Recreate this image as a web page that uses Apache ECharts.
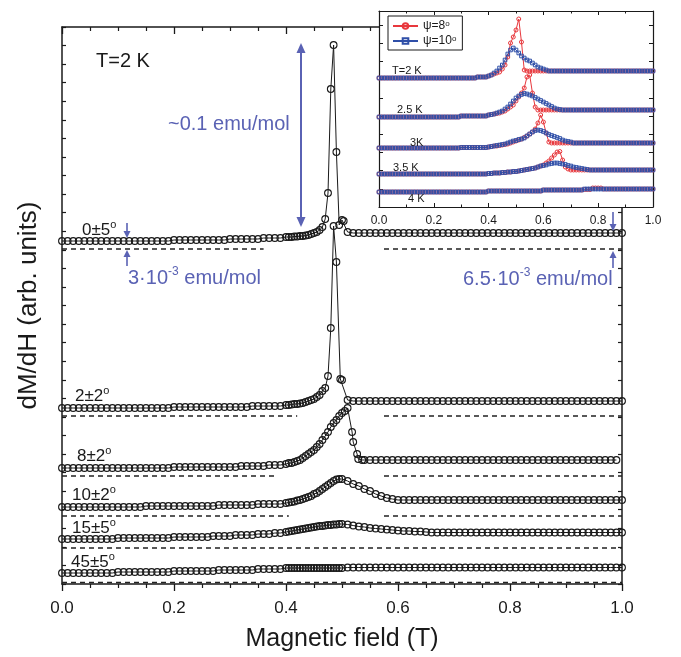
<!DOCTYPE html>
<html>
<head>
<meta charset="utf-8">
<script src="https://cdn.jsdelivr.net/npm/echarts@6/dist/echarts.min.js"></script>
<style>
  html, body { margin: 0; padding: 0; background: #fff; }
  #chart { width: 681px; height: 657px; }
</style>
</head>
<body>
<div id="chart"></div>
<script>
// ---- Main panel: dM/dH vs field at T = 2 K for several tilt angles (offset vertically) ----
const CURVE_0_5 = [
  [0,343],[0.01,343],[0.02,343],[0.03,343],[0.04,343],[0.05,343],[0.06,343],[0.07,343],[0.08,343],[0.09,343],
  [0.1,343],[0.11,343],[0.12,343],[0.13,343],[0.14,343],[0.15,343],[0.16,343],[0.17,343],[0.18,343],[0.19,343],
  [0.2,344],[0.21,344],[0.22,344],[0.23,344],[0.24,344],[0.25,344],[0.26,344],[0.27,344],[0.28,344],[0.29,344],
  [0.3,345],[0.31,345],[0.32,345],[0.33,345],[0.34,345],[0.35,345],[0.36,346],[0.37,346],[0.38,346],[0.39,346],
  [0.4,347],[0.405,347],[0.41,347],[0.415,347.5],[0.42,347.5],[0.425,348],[0.43,348],[0.435,348.5],[0.44,349],[0.445,350],
  [0.45,351],[0.455,352],[0.46,354],[0.465,357],[0.47,365],[0.475,391],[0.48,495],[0.485,539],[0.49,432],[0.495,359],
  [0.5,364],[0.503,363],[0.51,352],
  [0.52,351],[0.53,351],[0.54,351],[0.55,351],[0.56,351],[0.57,351],[0.58,351],[0.59,351],
  [0.6,351],[0.61,351],[0.62,351],[0.63,351],[0.64,351],[0.65,351],[0.66,351],[0.67,351],[0.68,351],[0.69,351],
  [0.7,351],[0.71,351],[0.72,351],[0.73,351],[0.74,351],[0.75,351],[0.76,351],[0.77,351],[0.78,351],[0.79,351],
  [0.8,351],[0.81,351],[0.82,351],[0.83,351],[0.84,351],[0.85,351],[0.86,351],[0.87,351],[0.88,351],[0.89,351],
  [0.9,351],[0.91,351],[0.92,351],[0.93,351],[0.94,351],[0.95,351],[0.96,351],[0.97,351],[0.98,351],[0.99,351],[1,351]
];

const CURVE_2_2 = [
  [0,176],[0.01,176],[0.02,176],[0.03,176],[0.04,176],[0.05,176],[0.06,176],[0.07,176],[0.08,176],[0.09,176],
  [0.1,176],[0.11,176],[0.12,176],[0.13,176],[0.14,176],[0.15,176],[0.16,176],[0.17,176],[0.18,176],[0.19,176],
  [0.2,177],[0.21,177],[0.22,177],[0.23,177],[0.24,177],[0.25,177],[0.26,177],[0.27,177],[0.28,177],[0.29,177],
  [0.3,177],[0.31,177],[0.32,177],[0.33,177],[0.34,178],[0.35,178],[0.36,178],[0.37,178],[0.38,178],[0.39,178],
  [0.4,179],[0.405,179],[0.41,179.5],[0.415,180],[0.42,180],[0.425,180.5],[0.43,181],[0.435,182],[0.44,183],[0.445,184],
  [0.45,185],[0.455,187],[0.46,189],[0.465,193],[0.47,196],[0.475,208],[0.48,256],[0.485,358],[0.49,322],[0.497,205],
  [0.5,204],[0.51,184],
  [0.52,183],[0.53,183],[0.54,183],[0.55,183],[0.56,183],[0.57,183],[0.58,183],[0.59,183],
  [0.6,183],[0.61,183],[0.62,183],[0.63,183],[0.64,183],[0.65,183],[0.66,183],[0.67,183],[0.68,183],[0.69,183],
  [0.7,183],[0.71,183],[0.72,183],[0.73,183],[0.74,183],[0.75,183],[0.76,183],[0.77,183],[0.78,183],[0.79,183],
  [0.8,183],[0.81,183],[0.82,183],[0.83,183],[0.84,183],[0.85,183],[0.86,183],[0.87,183],[0.88,183],[0.89,183],
  [0.9,183],[0.91,183],[0.92,183],[0.93,183],[0.94,183],[0.95,183],[0.96,183],[0.97,183],[0.98,183],[0.99,183],[1,183]
];

const CURVE_8_2 = [
  [0,116],[0.01,116],[0.02,116],[0.03,116],[0.04,116],[0.05,116],[0.06,116],[0.07,116],[0.08,116],[0.09,116],
  [0.1,116],[0.11,116],[0.12,116],[0.13,116],[0.14,116],[0.15,116],[0.16,116],[0.17,116],[0.18,116],[0.19,116],
  [0.2,117],[0.21,117],[0.22,117],[0.23,117],[0.24,117],[0.25,117],[0.26,117],[0.27,117],[0.28,117],[0.29,117],
  [0.3,117],[0.31,117],[0.32,118],[0.33,118],[0.34,118],[0.35,118],[0.36,118],[0.37,119],[0.38,119],[0.39,119],
  [0.4,120],[0.405,121],[0.41,121],[0.415,122],[0.42,123],[0.425,124],[0.43,126],[0.435,128],[0.44,130],[0.445,132],
  [0.45,134],[0.455,137],[0.46,140],[0.465,144],[0.47,148],[0.475,152],[0.48,157],[0.485,161],[0.49,164],[0.495,168],
  [0.5,171],[0.505,173],[0.51,176],[0.518,152],[0.52,142],[0.527,130],[0.529,125],[0.536,124],
  [0.54,124],[0.55,124],[0.56,124],[0.57,124],[0.58,124],[0.59,124],
  [0.6,124],[0.61,124],[0.62,124],[0.63,124],[0.64,124],[0.65,124],[0.66,124],[0.67,124],[0.68,124],[0.69,124],
  [0.7,124],[0.71,124],[0.72,124],[0.73,124],[0.74,124],[0.75,124],[0.76,124],[0.77,124],[0.78,124],[0.79,124],
  [0.8,124],[0.81,124],[0.82,124],[0.83,124],[0.84,124],[0.85,124],[0.86,124],[0.87,124],[0.88,124],[0.89,124],
  [0.9,124],[0.91,124],[0.92,124],[0.93,124],[0.94,124],[0.95,124],[0.96,124],[0.97,124],[0.98,124],[0.99,124]
];

const CURVE_10_2 = [
  [0,77],[0.01,77],[0.02,77],[0.03,77],[0.04,77],[0.05,77],[0.06,77],[0.07,77],[0.08,77],[0.09,77],
  [0.1,77],[0.11,77],[0.12,77],[0.13,77],[0.14,77],[0.15,78],[0.16,78],[0.17,78],[0.18,78],[0.19,78],
  [0.2,78],[0.21,78],[0.22,78],[0.23,78],[0.24,78],[0.25,78],[0.26,78],[0.27,78],[0.28,79],[0.29,79],
  [0.3,79],[0.31,79],[0.32,79],[0.33,79],[0.34,79],[0.35,80],[0.36,80],[0.37,80],[0.38,80],[0.39,80],
  [0.4,81],[0.405,81.5],[0.41,82],[0.415,82.5],[0.42,83.5],[0.425,84],[0.43,85],[0.435,86],[0.44,87],[0.445,88],
  [0.45,90],[0.455,91],[0.46,93],[0.465,95],[0.47,97],[0.475,99],[0.48,101],[0.485,103],[0.49,104.5],[0.495,105],
  [0.5,105],[0.51,103],[0.52,100],[0.53,98],[0.54,95],[0.55,93],[0.56,90],[0.57,88],[0.58,86],[0.59,85],
  [0.6,84],[0.61,84],[0.62,84],[0.63,84],[0.64,84],[0.65,84],[0.66,84],[0.67,84],[0.68,84],[0.69,84],
  [0.7,84],[0.71,84],[0.72,84],[0.73,84],[0.74,84],[0.75,84],[0.76,84],[0.77,84],[0.78,84],[0.79,84],
  [0.8,84],[0.81,84],[0.82,84],[0.83,84],[0.84,84],[0.85,84],[0.86,84],[0.87,84],[0.88,84],[0.89,84],
  [0.9,84],[0.91,84],[0.92,84],[0.93,84],[0.94,84],[0.95,84],[0.96,84],[0.97,84],[0.98,84],[0.99,84],[1,84]
];

const CURVE_15_5 = [
  [0,45],[0.01,45],[0.02,45],[0.03,45],[0.04,45],[0.05,45],[0.06,45],[0.07,45],[0.08,45],[0.09,45],
  [0.1,46],[0.11,46],[0.12,46],[0.13,46],[0.14,46],[0.15,46],[0.16,46],[0.17,46],[0.18,46],[0.19,46],
  [0.2,47],[0.21,47],[0.22,47],[0.23,47],[0.24,47],[0.25,47],[0.26,47],[0.27,48],[0.28,48],[0.29,48],
  [0.3,48],[0.31,49],[0.32,49],[0.33,49],[0.34,49],[0.35,50],[0.36,50],[0.37,50],[0.38,51],[0.39,51],
  [0.4,52],[0.405,52.5],[0.41,53],[0.415,53.5],[0.42,54],[0.425,54.5],[0.43,55],[0.435,55.5],[0.44,56],[0.445,56.5],
  [0.45,57],[0.455,57.5],[0.46,58],[0.465,58],[0.47,58.5],[0.475,59],[0.48,59],[0.485,59.5],[0.49,59.5],[0.495,60],
  [0.5,60],[0.51,59.5],[0.52,58.5],[0.53,57.5],[0.54,57],[0.55,56],[0.56,55.5],[0.57,55],[0.58,54.5],[0.59,54],
  [0.6,53.5],[0.61,53],[0.62,53],[0.63,52.5],[0.64,52.5],[0.65,52],[0.66,51.5],[0.67,51.5],[0.68,51.5],[0.69,51.5],
  [0.7,51.5],[0.71,51.5],[0.72,51.5],[0.73,51.5],[0.74,51.5],[0.75,51.5],[0.76,51.5],[0.77,51.5],[0.78,51.5],[0.79,51.5],
  [0.8,51.5],[0.81,51.5],[0.82,51.5],[0.83,51.5],[0.84,51.5],[0.85,51.5],[0.86,51.5],[0.87,51.5],[0.88,51.5],[0.89,51.5],
  [0.9,51.5],[0.91,51.5],[0.92,51.5],[0.93,51.5],[0.94,51.5],[0.95,51.5],[0.96,51.5],[0.97,51.5],[0.98,51.5],[0.99,51.5],[1,51.5]
];

const CURVE_45_5 = [
  [0,11],[0.01,11],[0.02,11],[0.03,11],[0.04,11],[0.05,11],[0.06,11],[0.07,11],[0.08,11],[0.09,11],
  [0.1,12],[0.11,12],[0.12,12],[0.13,12],[0.14,12],[0.15,12],[0.16,12],[0.17,12],[0.18,12],[0.19,12],
  [0.2,13],[0.21,13],[0.22,13],[0.23,13],[0.24,13],[0.25,13],[0.26,13],[0.27,13],[0.28,14],[0.29,14],
  [0.3,14],[0.31,14],[0.32,14],[0.33,14],[0.34,14],[0.35,15],[0.36,15],[0.37,15],[0.38,15],[0.39,15],
  [0.4,16],[0.405,16],[0.41,16],[0.415,16],[0.42,16],[0.425,16],[0.43,16],[0.435,16],[0.44,16],[0.445,16],
  [0.45,16],[0.455,16],[0.46,16],[0.465,16],[0.47,16],[0.475,16],[0.48,16],[0.485,16],[0.49,16],[0.495,16],
  [0.5,16],[0.51,16.5],[0.52,16.5],[0.53,16.5],[0.54,16.5],[0.55,16.5],[0.56,16.5],[0.57,16.5],[0.58,16.5],[0.59,16.5],
  [0.6,16.5],[0.61,16.5],[0.62,16.5],[0.63,16.5],[0.64,16.5],[0.65,16.5],[0.66,16.5],[0.67,16.5],[0.68,16.5],[0.69,16.5],
  [0.7,16.5],[0.71,16.5],[0.72,16.5],[0.73,16.5],[0.74,16.5],[0.75,16.5],[0.76,16.5],[0.77,16.5],[0.78,16.5],[0.79,16.5],
  [0.8,16.5],[0.81,16.5],[0.82,16.5],[0.83,16.5],[0.84,16.5],[0.85,16.5],[0.86,16.5],[0.87,16.5],[0.88,16.5],[0.89,16.5],
  [0.9,16.5],[0.91,16.5],[0.92,16.5],[0.93,16.5],[0.94,16.5],[0.95,16.5],[0.96,16.5],[0.97,16.5],[0.98,16.5],[0.99,16.5],[1,16.5]
];

const MAIN_CURVES = [CURVE_0_5, CURVE_2_2, CURVE_8_2, CURVE_10_2, CURVE_15_5, CURVE_45_5];

// zero-signal reference level of each trace and the field ranges where it is drawn
const REF_LEVELS = [335, 168, 108, 68, 36, 1.5];
const REF_SPANS = [
  [[0, 0.36], [0.575, 1]],
  [[0, 0.42], [0.575, 1]],
  [[0, 0.38], [0.575, 1]],
  [[0, 0.405], [0.575, 1]],
  [[0, 1]],
  [[0, 1]]
];

// ---- Inset: temperature dependence for psi = 8 deg and psi = 10 deg ----
const INSET_FIELD = [
  0,0.01,0.02,0.03,0.04,0.05,0.06,0.07,0.08,0.09,
  0.1,0.11,0.12,0.13,0.14,0.15,0.16,0.17,0.18,0.19,
  0.2,0.21,0.22,0.23,0.24,0.25,0.26,0.27,0.28,0.29,
  0.3,0.31,0.32,0.33,0.34,0.35,0.36,0.37,0.38,0.39,
  0.4,0.41,0.42,0.43,0.44,0.45,0.46,0.47,0.48,0.49,
  0.5,0.51,0.52,0.53,0.54,0.55,0.56,0.57,0.58,0.59,
  0.6,0.61,0.62,0.63,0.64,0.65,0.66,0.67,0.68,0.69,
  0.7,0.71,0.72,0.73,0.74,0.75,0.76,0.77,0.78,0.79,
  0.8,0.81,0.82,0.83,0.84,0.85,0.86,0.87,0.88,0.89,
  0.9,0.91,0.92,0.93,0.94,0.95,0.96,0.97,0.98,0.99,1
];

const PSI8_2K = [
  129,129,129,129,129,129,129,129,129,129,
  129,129,129,129,129,129,129,129,129,129,
  129,129,129,129,129,129,129,129,129,129,
  129,129,129,129,129,129,130,130,130,130,
  131,132,133,134,135,138,142,150,164,170,
  177,188,165,137,136,136,136,136,136,136,
  136,136,136,136,136,136,136,136,136,136,
  136,136,136,136,136,136,136,136,136,136,
  136,136,136,136,136,136,136,136,136,136,
  136,136,136,136,136,136,136,136,136,136,136
];
const PSI10_2K = [
  129,129,129,129,129,129,129,129,129,129,
  129,129,129,129,129,129,129,129,129,129,
  129,129,129,129,129,129,129,129,129,129,
  129,129,129,129,129,129,130,130,130,130,
  131,132,134,136,139,142,147,153,157,159,
  157,154,151,149,147,146,144,142,140,139,
  138,137,136,136,136,136,136,136,136,136,
  136,136,136,136,136,136,136,136,136,136,
  136,136,136,136,136,136,136,136,136,136,
  136,136,136,136,136,136,136,136,136,136,136
];
const PSI8_25K = [
  90,90,90,90,90,90,90,90,90,90,
  90,90,90,90,90,90,90,90,90,90,
  90,90,90,90,90,90,90,90,90,90,
  91,91,91,91,91,91,91,91,91,91,
  92,92.5,93,93.5,94,95,96,98,100,102,
  106,110,114,119,130,132,114,100,97,97,
  97,97,97,97,97,97,97,97,97,97,
  97,97,97,97,97,97,97,97,97,97,
  97,97,97,97,97,97,97,97,97,97,
  97,97,97,97,97,97,97,97,97,97,97
];
const PSI10_25K = [
  90,90,90,90,90,90,90,90,90,90,
  90,90,90,90,90,90,90,90,90,90,
  90,90,90,90,90,90,90,90,90,90,
  91,91,91,91,91,91,91,91,91,91,
  92,92.5,93,94,95,96,98,100,103,106,
  109,111,112.5,113.5,113,112,111,109.5,108,106.5,
  105,103.5,102,100.5,99,98,97.5,97,97,97,
  97,97,97,97,97,97,97,97,97,97,
  97,97,97,97,97,97,97,97,97,97,
  97,97,97,97,97,97,97,97,97,97,97
];
const PSI8_3K = [
  59,59,59,59,59,59,59,59,59,59,
  59,59,59,59,59,59,59,59,59,59,
  59,59,59,59,59,59,59,59,59,59,
  59.5,59.5,59.5,59.5,59.5,59.5,59.5,59.5,59.5,59.5,
  60,60.5,61,61,61.5,62,62.5,63,64,65,
  66,67,68,69.5,71,73,75,78,84,92,
  85,74,65,64,64,64,64,64,64,64,
  64,64,64,64,64,64,64,64,64,64,
  64,64,64,64,64,64,64,64,64,64,
  64,64,64,64,64,64,64,64,64,64,64
];
const PSI10_3K = [
  59,59,59,59,59,59,59,59,59,59,
  59,59,59,59,59,59,59,59,59,59,
  59,59,59,59,59,59,59,59,59,59,
  59.5,59.5,59.5,59.5,59.5,59.5,59.5,59.5,59.5,59.5,
  60,60.5,61,61.5,62,62.5,63,64,65,66,
  66.5,67.5,68,69,71,73,75,76.5,77,76.5,
  75.5,74,72.5,71.5,70.5,69.5,68.5,67,66,65.5,
  65,64,64,64,64,64,64,64,64,64,
  64,64,64,64,64,64,64,64,64,64,
  64,64,64,64,64,64,64,64,64,64,64
];
const PSI8_35K = [
  33,33,33,33,33,33,33,33,33,33,
  33,33,33,33,33,33,33,33,33,33,
  33,33,33,33,33,33,33,33,33,33,
  33,33,33,33,33,33,33,33,33,33,
  33.5,33.5,34,34,34,34.5,34.5,35,35,35.5,
  35.5,36,36.5,37,37.5,38,38.5,39,40,41,
  42,44,46,49,52,55,55.5,47,40,38,
  37,37,37,37,37,37,37,37,37,37,
  37,37,37,37,37,37,37,37,37,37,
  37,37,37,37,37,37,37,37,37,37,37
];
const PSI10_35K = [
  33,33,33,33,33,33,33,33,33,33,
  33,33,33,33,33,33,33,33,33,33,
  33,33,33,33,33,33,33,33,33,33,
  33,33,33,33,33,33,33,33,33,33,
  33.5,33.5,34,34,34,34.5,34.5,35,35,35.5,
  35.5,36,36.5,37,37.5,38,38.5,39,40,41,
  41.5,42,43,43.5,44,44,43.5,43,42.5,41.5,
  41,40,39.5,39,38.5,38,37.5,37,37,37,
  37,37,37,37,37,37,37,37,37,37,
  37,37,37,37,37,37,37,37,37,37,37
];
const PSI8_4K = [
  15,15,15,15,15,15,15,15,15,15,
  15,15,15,15,15,15,15,15,15,15,
  15,15,15,15,15,15,15,15,15,15,
  15,15,15,15,15,15,15,15,15,15,
  16,16,16,16,16,16,16,16,16,16,
  16,16,16,16,16,16,16,16,16,16,
  17,17,17,17,17,17,17,17,17,17,
  17,17,17,17,17,17.5,17.5,17.5,19,19,
  19,19,18,18,18,18,18,18,18,18,
  18,18,18,18,18,18,18,18,18,18,18
];
const PSI10_4K = [
  15,15,15,15,15,15,15,15,15,15,
  15,15,15,15,15,15,15,15,15,15,
  15,15,15,15,15,15,15,15,15,15,
  15,15,15,15,15,15,15,15,15,15,
  16,16,16,16,16,16,16,16,16,16,
  16,16,16,16,16,16,16,16,16,16,
  17,17,17,17,17,17,17,17,17,17,
  17,17,17,17,17,18,18,18,18,18,
  18,18,18,18,18,18,18,18,18,18,
  18,18,18,18,18,18,18,18,18,18,18
];
const PSI8_SET = [PSI8_2K, PSI8_25K, PSI8_3K, PSI8_35K, PSI8_4K];
const PSI10_SET = [PSI10_2K, PSI10_25K, PSI10_3K, PSI10_35K, PSI10_4K];

// ---- styling ----
const FONT = '"Liberation Sans", Arial, Helvetica, sans-serif';
const INK = '#1a1a1a';
const NOTE = '#5a62b4';
const RED = '#e8383d';
const BLUE = '#2f4fa8';
const PSI8 = 'ψ=8°';
const PSI10 = 'ψ=10°';

const chart = echarts.init(document.getElementById('chart'), null, { renderer: 'canvas' });

function mainX(pos, showLabels) {
  return {
    gridIndex: 0, type: 'value', min: 0, max: 1, interval: 0.2, position: pos,
    axisLine: { show: true, onZero: false, lineStyle: { color: INK, width: 1.5 } },
    axisTick: { show: true, inside: pos === 'top', length: 7, lineStyle: { color: INK, width: 1.3 } },
    minorTick: { show: true, splitNumber: 4, length: 4, lineStyle: { color: INK, width: 1.2 } },
    axisLabel: { show: showLabels, fontSize: 17, color: INK, fontFamily: FONT, margin: 16, formatter: v => v.toFixed(1) },
    splitLine: { show: false },
    name: showLabels ? 'Magnetic field (T)' : '',
    nameLocation: 'middle', nameGap: 43,
    nameTextStyle: { fontSize: 25, color: INK, fontFamily: FONT }
  };
}
function mainY(pos, withName) {
  return {
    gridIndex: 0, type: 'value', min: 0, max: 557, interval: 557 / 30, position: pos,
    axisLine: { show: true, onZero: false, lineStyle: { color: INK, width: 1.5 } },
    axisTick: { show: true, inside: true, length: 4, lineStyle: { color: INK, width: 1.2 } },
    axisLabel: { show: false },
    splitLine: { show: false },
    name: withName ? 'dM/dH (arb. units)' : '',
    nameLocation: 'middle', nameGap: 20, nameRotate: 90,
    nameTextStyle: { fontSize: 26, color: INK, fontFamily: FONT }
  };
}
function insetX(pos, showLabels) {
  return {
    gridIndex: 1, type: 'value', min: 0, max: 1, interval: 0.2, position: pos, z: 11,
    axisLine: { show: true, onZero: false, lineStyle: { color: INK, width: 1.2 } },
    axisTick: { show: true, inside: true, length: 4, lineStyle: { color: INK, width: 1 } },
    minorTick: { show: true, splitNumber: 2, length: 2.5, lineStyle: { color: INK, width: 1 } },
    axisLabel: { show: showLabels, fontSize: 12, color: INK, fontFamily: FONT, margin: 8, formatter: v => v.toFixed(1) },
    splitLine: { show: false }
  };
}
function insetY(pos) {
  return {
    gridIndex: 1, type: 'value', min: 0, max: 196, interval: 18.2, position: pos, z: 11,
    axisLine: { show: true, onZero: false, lineStyle: { color: INK, width: 1.2 } },
    axisTick: { show: true, inside: true, length: 4, lineStyle: { color: INK, width: 1 } },
    axisLabel: { show: false },
    splitLine: { show: false }
  };
}

const series = [];
// dashed reference levels
REF_LEVELS.forEach((lvl, i) => {
  REF_SPANS[i].forEach(span => {
    series.push({
      type: 'line', xAxisIndex: 0, yAxisIndex: 0, z: 2, silent: true,
      data: [[span[0], lvl], [span[1], lvl]], showSymbol: false, symbol: 'none',
      lineStyle: { color: '#222', width: 1.3, type: [5, 4] }
    });
  });
});
// measured traces
MAIN_CURVES.forEach(curve => {
  series.push({
    type: 'line', xAxisIndex: 0, yAxisIndex: 0, z: 3, data: curve,
    symbol: 'circle', symbolSize: 6.8, showSymbol: true,
    lineStyle: { color: INK, width: 1 },
    itemStyle: { color: 'rgba(0,0,0,0)', borderColor: INK, borderWidth: 1.1 }
  });
});
// inset traces
const zip = ys => INSET_FIELD.map((h, k) => [h, ys[k]]);
PSI8_SET.forEach(ys => {
  series.push({
    name: PSI8, type: 'line', xAxisIndex: 2, yAxisIndex: 2, z: 12, data: zip(ys),
    symbol: 'circle', symbolSize: 4,
    lineStyle: { color: RED, width: 1 },
    itemStyle: { color: 'rgba(0,0,0,0)', borderColor: RED, borderWidth: 1 }
  });
});
PSI10_SET.forEach(ys => {
  series.push({
    name: PSI10, type: 'line', xAxisIndex: 2, yAxisIndex: 2, z: 13, data: zip(ys),
    symbol: 'rect', symbolSize: 3.6,
    lineStyle: { color: BLUE, width: 1 },
    itemStyle: { color: 'rgba(0,0,0,0)', borderColor: BLUE, borderWidth: 1 }
  });
});

// ---- annotations ----
function label(x, y, main, sup, size, color, after) {
  const text = '{m|' + main + '}' + (sup ? '{s|' + sup + '}' : '') + (after ? '{m|' + after + '}' : '');
  return {
    type: 'text', x: x, y: y, z: 50,
    style: {
      text: text, fill: color, fontFamily: FONT, fontSize: size, verticalAlign: 'middle',
      rich: {
        m: { fontSize: size, fontFamily: FONT, fill: color, lineHeight: size + 4 },
        s: { fontSize: Math.round(size * 0.62), fontFamily: FONT, fill: color, verticalAlign: 'top' }
      }
    }
  };
}
function arrowHead(x, tipY, dir, len, half, color) {
  return { type: 'polygon', z: 50, shape: { points: [[x, tipY], [x - half, tipY - dir * len], [x + half, tipY - dir * len]] }, style: { fill: color } };
}
function arrow(x, fromY, toY, width, len, half, color) {
  const dir = toY > fromY ? 1 : -1;
  return [
    { type: 'line', z: 50, shape: { x1: x, y1: fromY, x2: x, y2: toY - dir * len * 0.7 }, style: { stroke: color, lineWidth: width } },
    arrowHead(x, toY, dir, len, half, color)
  ];
}
function doubleArrow(x, y1, y2, width, len, half, color) {
  return [
    { type: 'line', z: 50, shape: { x1: x, y1: y1 + len * 0.7, x2: x, y2: y2 - len * 0.7 }, style: { stroke: color, lineWidth: width } },
    arrowHead(x, y1, -1, len, half, color),
    arrowHead(x, y2, 1, len, half, color)
  ];
}

const graphics = [
  label(96, 61, 'T=2 K', '', 20, INK),
  label(168, 124, '~0.1 emu/mol', '', 20, NOTE),
  label(82, 230, '0±5', 'o', 17, INK),
  label(75, 396, '2±2', 'o', 17, INK),
  label(77, 456, '8±2', 'o', 17, INK),
  label(72, 495, '10±2', 'o', 17, INK),
  label(72, 528, '15±5', 'o', 17, INK),
  label(71, 562, '45±5', 'o', 17, INK),
  label(128, 278, '3·10', '-3', 20, NOTE, ' emu/mol'),
  label(463, 279, '6.5·10', '-3', 20, NOTE, ' emu/mol'),
  label(392, 71, 'T=2 K', '', 11, INK),
  label(397, 110, '2.5 K', '', 11, INK),
  label(410, 143, '3K', '', 11, INK),
  label(393, 168, '3.5 K', '', 11, INK),
  label(408, 199, '4 K', '', 11, INK)
].concat(
  doubleArrow(301, 43, 227, 2, 10, 4.5, NOTE),
  arrow(127, 223, 238, 1.6, 7, 3.5, NOTE),
  arrow(127, 266, 250, 1.6, 7, 3.5, NOTE),
  arrow(613, 212, 231, 1.6, 7, 3.5, NOTE),
  arrow(613, 268, 251, 1.6, 7, 3.5, NOTE)
);

chart.setOption({
  animation: false,
  backgroundColor: '#fff',
  textStyle: { fontFamily: FONT },
  grid: [
    { left: 62, top: 27, width: 560, height: 557, show: false },
    { left: 379, top: 11, width: 274, height: 196, show: true, backgroundColor: '#fff', borderWidth: 0, z: 10 }
  ],
  xAxis: [mainX('bottom', true), mainX('top', false), insetX('bottom', true), insetX('top', false)],
  yAxis: [mainY('left', true), mainY('right', false), insetY('left'), insetY('right')],
  legend: {
    data: [PSI8, PSI10], orient: 'vertical', left: 388, top: 16, z: 20,
    padding: [4, 6, 3, 4], itemGap: 3, itemWidth: 25, itemHeight: 7,
    borderColor: INK, borderWidth: 1, backgroundColor: '#fff',
    textStyle: {
      fontSize: 12, fontFamily: FONT, color: INK,
      rich: { t: { fontSize: 12, fontFamily: FONT }, s: { fontSize: 8, fontFamily: FONT, verticalAlign: 'top' } }
    },
    formatter: n => n === PSI8 ? '{t|ψ=8}{s|o}' : '{t|ψ=10}{s|o}'
  },
  graphic: graphics,
  series: series
});
</script>
</body>
</html>
